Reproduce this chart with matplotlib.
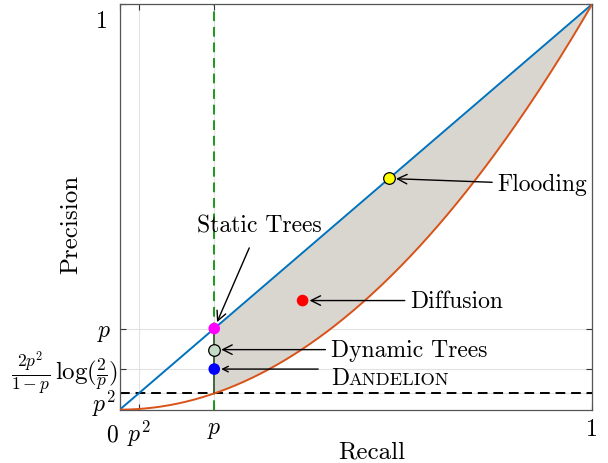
import matplotlib
matplotlib.use('Agg')
import matplotlib.pyplot as plt
import numpy as np

plt.rcParams['font.family'] = 'serif'
plt.rcParams['font.serif'] = ['cmr10', 'DejaVu Serif']
plt.rcParams['mathtext.fontset'] = 'cm'
plt.rcParams['axes.unicode_minus'] = False
plt.rcParams['axes.formatter.use_mathtext'] = True

p = 0.2
bound = 2 * p**2 / (1 - p) * np.log10(2 / p)

# algorithm points (recall, precision)
names = ['Static Trees', 'Dynamic Trees', 'Dandelion', 'Diffusion', 'Flooding']
recall = [p, p, p, 0.387, 0.570]
precision = [p, 0.148, bound, 0.269, 0.570]
colors = ['#ff00ff', '#c5dcc5', '#0000ff', '#ff0000', '#ffff00']
edges = ['none', 'black', 'none', 'none', 'black']

x = np.linspace(0, 1, 400)
xr = np.linspace(p, 1, 400)

fig = plt.figure(figsize=(6.08, 4.64), dpi=100)
ax = fig.add_axes([0.197, 0.115, 0.777, 0.874])

ax.fill_between(xr, xr**2, xr, color='#d9d6d0', lw=0, zorder=1)
ax.plot(x, x, color='#0072BD', lw=1.4, zorder=3)
ax.plot(x, x**2, color='#D95319', lw=1.4, zorder=3)
ax.axvline(p, color='#1a9a1a', lw=1.4, ls=(0, (5, 3)), zorder=2)
ax.plot([p, p], [p**2, p], color='#3f6a3f', lw=1.4, zorder=2)
ax.axhline(p**2, color='black', lw=1.4, ls=(0, (5, 3)), zorder=2)

for r, pr, c, e in zip(recall, precision, colors, edges):
    ax.scatter(r, pr, s=70, color=c, edgecolors=e, linewidths=0.9, zorder=5)

arrow = dict(arrowstyle='->', color='black', lw=1.0, shrinkA=2, shrinkB=5)
fs = 17
ax.annotate('Static Trees', xy=(recall[0], precision[0]), xytext=(0.295, 0.455),
            ha='center', va='center', fontsize=fs,
            arrowprops=dict(arrow, shrinkA=7))
ax.annotate('Dynamic Trees', xy=(recall[1], precision[1]), xytext=(0.447, precision[1]),
            ha='left', va='center', fontsize=fs, arrowprops=arrow)
ax.annotate('', xy=(recall[2], precision[2]), xytext=(0.42, precision[2]),
            arrowprops=dict(arrow, shrinkA=0))
ax.text(0.447, 0.064, 'D', ha='left', va='baseline', fontsize=fs)
ax.annotate('ANDELION', xy=(0.447, 0.064), xytext=(12.5, 0), textcoords='offset points',
            ha='left', va='baseline', fontsize=fs * 0.78)
ax.annotate('Diffusion', xy=(recall[3], precision[3]), xytext=(0.615, precision[3]),
            ha='left', va='center', fontsize=fs, arrowprops=arrow)
ax.annotate('Flooding', xy=(recall[4], precision[4]), xytext=(0.8, 0.556),
            ha='left', va='center', fontsize=fs, arrowprops=arrow)

ax.set_xlim(0, 1)
ax.set_ylim(0, 1)
ax.set_xticks([0, p**2, p, 1])
ax.set_xticklabels(['', '$p^2$', '$p$', '1'], fontsize=fs)
ax.set_yticks([p**2, bound, p, 1])
ax.set_yticklabels(['', '', '$p$', ''], fontsize=fs)
ax.text(-0.017, -0.06, '0', transform=ax.transAxes, ha='center', va='center', fontsize=fs)
ax.text(-0.025, 0.958, '1', transform=ax.transAxes, ha='right', va='center', fontsize=fs)
ax.text(-0.008, 0.017, '$p^2$', transform=ax.transAxes, ha='right', va='center', fontsize=fs)
ax.text(-0.004, bound - 0.01, r'$\frac{2p^2}{1-p}\,\log(\frac{2}{p})$', transform=ax.transAxes,
        ha='right', va='center', fontsize=18)
ax.tick_params(direction='in', top=True, right=True, length=4, width=0.8, color='#333333',
               pad=6)
ax.grid(True, color='#e2e2e2', lw=0.8, zorder=0)
ax.set_axisbelow(True)
for s in ax.spines.values():
    s.set_color('#555555')
    s.set_linewidth(0.9)

ax.set_xlabel('Recall', fontsize=18)
ax.xaxis.label.set_verticalalignment('baseline')
ax.xaxis.set_label_coords(0.534, -0.118)
ax.set_ylabel('Precision', fontsize=18)
ax.yaxis.set_label_coords(-0.08, 0.46)

fig.savefig('out.png', dpi=100)
